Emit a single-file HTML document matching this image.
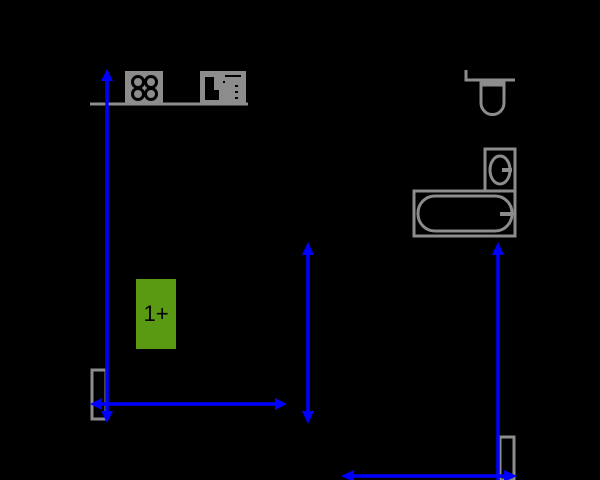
<!DOCTYPE html>
<html><head><style>html,body{margin:0;padding:0;background:#000;width:600px;height:480px;overflow:hidden}</style></head>
<body>
<svg width="600" height="480" viewBox="0 0 600 480" xmlns="http://www.w3.org/2000/svg">
<rect width="600" height="480" fill="#000"/>
<g fill="none" stroke="#8c8c8c" stroke-width="3">
<line x1="90" y1="104" x2="248" y2="104"/>
<rect x="125" y="71" width="38" height="33" fill="#8c8c8c" stroke="none"/>
<g stroke="#000" stroke-width="3" fill="none">
<circle cx="138" cy="82" r="5.5"/><circle cx="151" cy="82" r="5.5"/>
<circle cx="138" cy="94" r="5.5"/><circle cx="151" cy="94" r="5.5"/>
</g>
<rect x="200" y="71" width="46" height="33" fill="#8c8c8c" stroke="none"/>
<path d="M205 77 H214 V90 H219 V100 H205 Z" fill="#000" stroke="none"/>
<line x1="225" y1="76" x2="241" y2="76" stroke="#000" stroke-width="2"/>
<g fill="#000" stroke="none"><rect x="223" y="81" width="2" height="2"/><rect x="235" y="85" width="3" height="2"/><rect x="235" y="91" width="3" height="2"/><rect x="235" y="97" width="3" height="2"/></g>
<polyline points="466,70 466,80 515,80"/>
<rect x="481" y="80" width="23" height="5" fill="#8c8c8c"/>
<path d="M481 83 V103 A11.5 11.5 0 0 0 504 103 V83"/>
<rect x="485" y="149" width="30" height="42"/>
<ellipse cx="500" cy="170" rx="10" ry="14"/>
<line x1="502" y1="170" x2="512" y2="170" stroke-width="4"/>
<rect x="414" y="191" width="101" height="45"/>
<rect x="418" y="196" width="94" height="35" rx="17" ry="17"/>
<line x1="500" y1="214" x2="512" y2="214" stroke-width="4"/>
<rect x="92" y="370" width="14" height="49"/>
<rect x="500" y="437" width="14" height="43"/>
</g>
<rect x="136" y="279" width="40" height="70" fill="#5a9a12"/>
<text x="156" y="321" font-family="Liberation Sans, sans-serif" font-size="22" text-anchor="middle" fill="#000">1+</text>
<g stroke="#0000ff" stroke-width="3.5" fill="#0000ff">
<line x1="107" y1="78" x2="107" y2="414"/>
<line x1="100" y1="404" x2="278" y2="404"/>
<line x1="308" y1="252" x2="308" y2="414"/>
<line x1="498" y1="252" x2="498" y2="480"/>
<line x1="350" y1="476" x2="508" y2="476"/>
</g>
<g fill="#0000ff">
<polygon points="107,69 101,81 113,81"/>
<polygon points="107,423 101,411 113,411"/>
<polygon points="90,404 102,398 102,410"/>
<polygon points="287,404 275,398 275,410"/>
<polygon points="308,242 302,255 314,255"/>
<polygon points="308,424 302,411 314,411"/>
<polygon points="498,242 492,255 504,255"/>
<polygon points="341,476 354,470 354,482"/>
<polygon points="517,476 504,470 504,482"/>
</g>
</svg>
</body></html>
